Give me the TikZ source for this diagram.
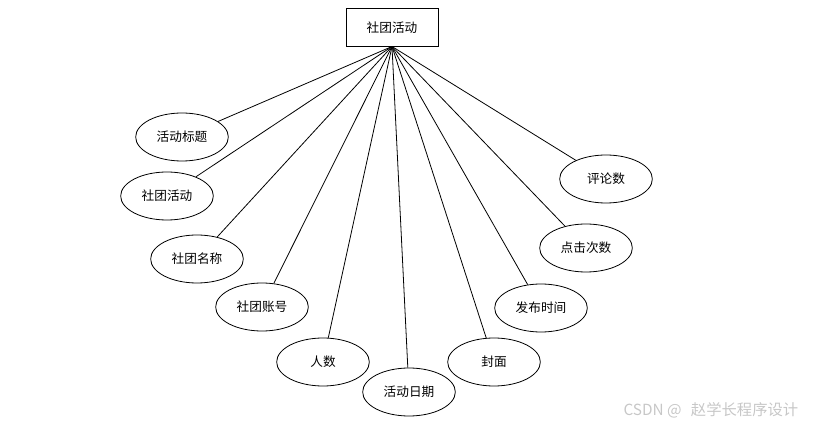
\documentclass[tikz,border=0pt]{standalone}
\usepackage{fontspec}
\setmainfont{Noto Sans CJK SC}
\usetikzlibrary{shapes.geometric}
\begin{document}
\begin{tikzpicture}[x=0.75pt,y=-0.75pt,
  every node/.style={font=\fontsize{9.5pt}{11pt}\selectfont},
  ent/.style={draw, line width=0.7pt, minimum width=69pt, minimum height=28pt, inner sep=0pt},
  attr/.style={draw, ellipse, line width=0.6pt, minimum width=69.5pt, minimum height=36pt, inner sep=0pt},
  link/.style={line width=0.6pt}]
\useasboundingbox (0,0) rectangle (814,427);
\node[ent] (main) at (392,27.5) {社团活动};
\coordinate (hub) at (392,46.5);
\node[attr] (a1) at (182,137) {活动标题};
\node[attr] (a2) at (167,196) {社团活动};
\node[attr] (a3) at (197,259) {社团名称};
\node[attr] (a4) at (262,307) {社团账号};
\node[attr] (a5) at (323,362) {人数};
\node[attr] (a6) at (409,392) {活动日期};
\node[attr] (a7) at (494,362) {封面};
\node[attr] (a8) at (541,308) {发布时间};
\node[attr] (a9) at (586,248) {点击次数};
\node[attr] (a10) at (606,179) {评论数};
\foreach \n in {a1,a2,a3,a4,a5,a6,a7,a8,a9,a10}
  \draw[link] (hub) -- (\n);
\node[text=black!22, anchor=east, font=\fontsize{11.5pt}{13pt}\selectfont] (wm) at (803,410) {CSDN @\hspace{7pt}赵学长程序设计};
\end{tikzpicture}
\end{document}
